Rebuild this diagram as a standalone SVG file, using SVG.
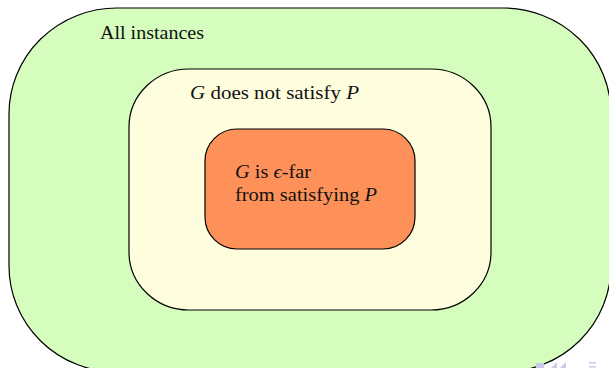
<svg xmlns="http://www.w3.org/2000/svg" width="609" height="368" viewBox="0 0 609 368">
<style>
.box{stroke:#000;stroke-width:1.2}
.t{font-family:'Liberation Serif','Times New Roman',serif;font-size:19.5px;fill:#111}
.i{font-style:italic}
.nav{fill:#c9cbe9}
</style>
<rect width="609" height="368" fill="#fff"/>
<g id="all-instances">
<rect class="box" x="9" y="8" width="602" height="364" rx="108" ry="106" fill="#d5fdbd"/>
<text class="t" x="100" y="39" textLength="104" lengthAdjust="spacingAndGlyphs">All instances</text>
</g>
<g id="not-satisfy">
<rect class="box" x="129" y="69" width="362" height="241" rx="60" ry="58" fill="#fefedf"/>
<text class="t" x="190" y="99" textLength="169" lengthAdjust="spacingAndGlyphs"><tspan class="i">G</tspan> does not satisfy <tspan class="i">P</tspan></text>
</g>
<g id="eps-far">
<rect class="box" x="205" y="129" width="210" height="120" rx="32" ry="32" fill="#fe9159"/>
<text class="t" x="235" y="178" textLength="76" lengthAdjust="spacingAndGlyphs"><tspan class="i">G</tspan> is <tspan class="i">ϵ</tspan>-far</text>
<text class="t" x="235" y="201" textLength="142" lengthAdjust="spacingAndGlyphs">from satisfying <tspan class="i">P</tspan></text>
</g>
<g id="connectors"></g>
<g id="nav">
<rect class="nav" x="536" y="363" width="8" height="5"/>
<polygon class="nav" points="551,368 557,362 557,368"/>
<polygon class="nav" points="560,368 566,362 566,368"/>
<rect class="nav" x="589" y="362" width="7" height="1.5"/>
<rect class="nav" x="589" y="366" width="7" height="1.5"/>
</g>
</svg>
